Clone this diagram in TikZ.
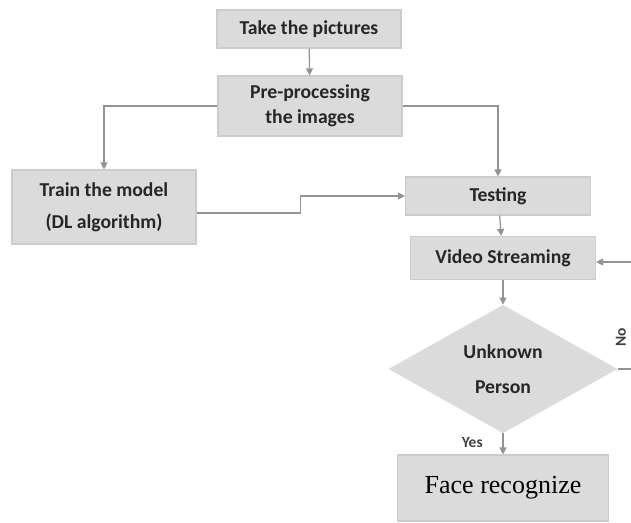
\documentclass[tikz,border=0pt]{standalone}
\usepackage{fontspec}
\setmainfont{Carlito}
\newfontfamily\serifface{Liberation Serif}
\usetikzlibrary{arrows.meta,positioning,calc,shapes.geometric}

\tikzset{
  stage/.style={rectangle,fill=gray!28,draw=gray!40,line width=0.8pt,
    align=center,text=black!85,font=\fontsize{14}{18}\selectfont\bfseries,inner sep=2pt},
  decide/.style={diamond,fill=gray!28,draw=none,align=center,inner sep=0pt,
    text=black!85,font=\fontsize{14}{25}\selectfont\bfseries,
    minimum width=5.725cm,minimum height=3cm},
  link/.style={draw=gray!85,line width=0.9pt},
  arr/.style={link,-{Triangle[length=5pt,width=5pt]}},
  tag/.style={font=\fontsize{11}{13}\selectfont\bfseries,text=black!75,inner sep=0pt}
}

\begin{document}
\begin{tikzpicture}[x=0.025cm,y=-0.025cm]
  \useasboundingbox (0,0) rectangle (631,523);
  \clip (0,0) rectangle (631,523);
  % boxes
  \node[stage,minimum width=4.6cm,minimum height=0.95cm] (take) at (309,29) {Take the pictures};
  \node[stage,minimum width=4.6cm,minimum height=1.5cm] (prep) at (310,106) {Pre-processing\\the images};
  \node[stage,minimum width=4.6cm,minimum height=1.85cm,font=\fontsize{14}{23}\selectfont\bfseries] (train) at (104,207) {Train the model\\(DL algorithm)};
  \node[stage,minimum width=4.625cm,minimum height=0.95cm] (test) at (498,196) {Testing};
  \node[stage,minimum width=4.625cm,minimum height=1.075cm] (video) at (503,258) {Video Streaming};
  \node[decide] (unknown) at (503,369) {Unknown\\Person};
  \node[stage,minimum width=5.275cm,minimum height=1.65cm,text=black,font=\fontsize{18.5}{22}\selectfont\serifface] (face) at (503,488) {Face recognize};
  % connectors
  \draw[arr] (take) -- (prep);
  \draw[arr] (prep.west) -| (train.north);
  \draw[arr] (prep.east) -| (test.north);
  \draw[arr] ($(train.east)+(0,6)$) -| ($(train.east)!0.5!(test.west)$) |- (test.west);
  \draw[arr] (test) -- (video);
  \draw[arr] (video) -- (unknown);
  \draw[arr] (unknown) -- (face) node[tag,pos=0.45,left=14pt] {Yes};
  % no branch runs back to the stream
  \coordinate (back) at (642,369);
  \draw[arr] (unknown.east) -- (back) |- ($(video.east)+(0,4)$);
  \node[tag,rotate=90] (no) at (621,337) {No};
\end{tikzpicture}
\end{document}
